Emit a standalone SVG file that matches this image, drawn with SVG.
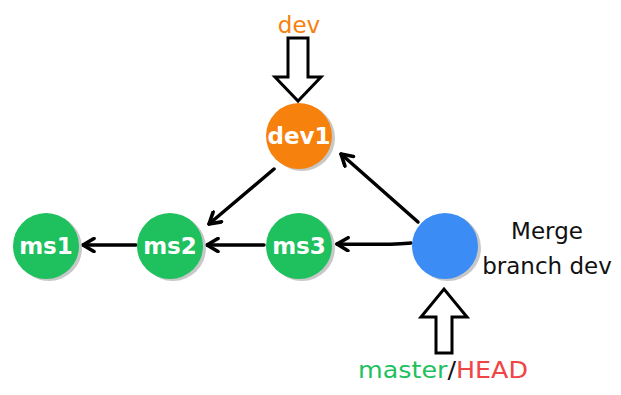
<svg xmlns="http://www.w3.org/2000/svg" width="621" height="395" viewBox="0 0 621 395">
<defs>
<style>
.lbl{font-family:"DejaVu Sans","Liberation Sans",sans-serif;font-size:23px;fill:#ffffff;font-weight:bold;text-anchor:middle}
.txt{font-family:"DejaVu Sans","Liberation Sans",sans-serif;font-size:23px;fill:#111111;text-anchor:middle}
.edge{stroke:#000;stroke-width:3.5;fill:none;stroke-linecap:round}
.shadow{fill:#c8c8c8}
.block{fill:#fff;stroke:#000;stroke-width:3;stroke-linejoin:miter}
.g{fill:#1ec15e}
</style>
<marker id="ah" viewBox="0 0 16 16" refX="14" refY="8" markerWidth="16" markerHeight="16" markerUnits="userSpaceOnUse" orient="auto">
<path d="M3,1.5 L14,8 L3,14.5" fill="none" stroke="#000" stroke-width="3.6" stroke-linecap="round" stroke-linejoin="round"/>
</marker>
</defs>
<rect width="621" height="395" fill="#fff"/>
<g id="connectors">
<line class="edge" x1="136" y1="245" x2="83" y2="245" marker-end="url(#ah)"/>
<line class="edge" x1="264" y1="245" x2="207" y2="245" marker-end="url(#ah)"/>
<path class="edge" d="M411,243 Q395,245 337,244" marker-end="url(#ah)"/>
<line class="edge" x1="274" y1="169" x2="209" y2="224" marker-end="url(#ah)"/>
<line class="edge" x1="418" y1="222" x2="341" y2="154" marker-end="url(#ah)"/>
</g>
<g id="node-ms1">
<circle class="shadow" cx="49" cy="248" r="33"/>
<circle class="g" cx="46" cy="246" r="33"/>
<text class="lbl" x="46" y="254">ms1</text>
</g>
<g id="node-ms2">
<circle class="shadow" cx="173" cy="248" r="33"/>
<circle class="g" cx="170" cy="246" r="33"/>
<text class="lbl" x="170" y="254">ms2</text>
</g>
<g id="node-ms3">
<circle class="shadow" cx="302" cy="248" r="33"/>
<circle class="g" cx="299" cy="246" r="33"/>
<text class="lbl" x="299" y="254">ms3</text>
</g>
<g id="node-dev1">
<circle class="shadow" cx="302" cy="138" r="33"/>
<circle fill="#f7810d" cx="299" cy="136" r="33"/>
<text class="lbl" x="299" y="144">dev1</text>
</g>
<g id="node-merge">
<circle class="shadow" cx="448" cy="248" r="33"/>
<circle fill="#3b8df5" cx="445" cy="246" r="33"/>
</g>
<g id="label-merge">
<text class="txt" x="547" y="239">Merge</text>
<text class="txt" x="547" y="274">branch dev</text>
</g>
<g id="pointer-dev">
<text x="299" y="33" style="font-family:'DejaVu Sans','Liberation Sans',sans-serif;font-size:23px;fill:#f7810d;text-anchor:middle">dev</text>
<path class="block" d="M288,38 L308,38 L308,77 L321,77 L298,101 L275,77 L288,77 Z"/>
</g>
<g id="pointer-master">
<path class="block" d="M436,353 L452,353 L452,317 L467,317 L444,289 L421,317 L436,317 Z"/>
<text x="443" y="378" style="font-family:'DejaVu Sans','Liberation Sans',sans-serif;font-size:23px;text-anchor:middle" textLength="170" lengthAdjust="spacingAndGlyphs"><tspan fill="#1ec15e">master</tspan><tspan fill="#111">/</tspan><tspan fill="#f04545">HEAD</tspan></text>
</g>
</svg>
